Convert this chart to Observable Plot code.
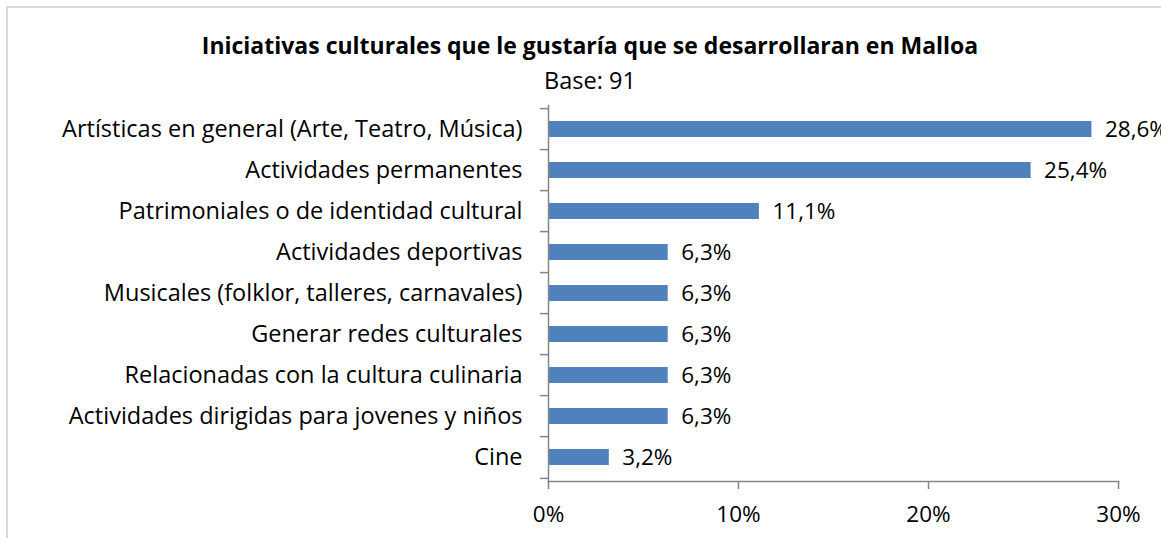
<!DOCTYPE html>
<html><head><meta charset="utf-8">
<script src="https://cdn.jsdelivr.net/npm/d3@7"></script>
<script src="https://cdn.jsdelivr.net/npm/@observablehq/plot@0.6"></script>
<style>
body{margin:0;background:#fff;font-family:"Open Sans",sans-serif;color:#000;width:1161px;height:538px;overflow:hidden;position:relative;}
#frame{position:absolute;left:6px;top:6px;width:1300px;height:700px;border-left:2px solid #d9d9d9;border-top:2px solid #d9d9d9;z-index:2;pointer-events:none;}
#title{position:absolute;left:0;width:1180px;top:33px;text-align:center;font-weight:bold;font-size:23px;line-height:24px;white-space:nowrap;}
#subtitle{position:absolute;left:0;width:1180px;top:68px;text-align:center;font-size:23.5px;line-height:24px;white-space:nowrap;}
#chart{position:absolute;left:0;top:95px;}
</style></head><body>
<div id="frame"></div>
<div id="title">Iniciativas culturales que le gustaría que se desarrollaran en Malloa</div>
<div id="subtitle">Base: 91</div>
<div id="chart"></div>
<script>
const categories = [
  "Artísticas en general (Arte, Teatro, Música)",
  "Actividades permanentes",
  "Patrimoniales o de identidad cultural",
  "Actividades deportivas",
  "Musicales (folklor, talleres, carnavales)",
  "Generar redes culturales",
  "Relacionadas con la cultura culinaria",
  "Actividades dirigidas para jovenes y niños",
  "Cine"
];
const values = [28.6, 25.4, 11.1, 6.3, 6.3, 6.3, 6.3, 6.3, 3.2];
const xTicks = [0, 10, 20, 30];

const data = categories.map((c, i) => ({category: c, value: values[i]}));
const fmt = v => v.toFixed(1).replace(".", ",") + "%";

const W = 1161, H = 443, mT = 10, mB = 57;
const step = (H - mT - mB) / categories.length;
const axisColor = "#868686";

const chart = Plot.plot({
  width: W, height: H,
  marginTop: mT, marginBottom: mB, marginLeft: 548, marginRight: 43,
  style: {fontFamily: "'Open Sans', sans-serif", fontSize: "23px", color: "#000", background: "transparent", overflow: "visible"},
  x: {domain: [0, 30]},
  y: {domain: categories, paddingInner: 0.6, paddingOuter: 0.3},
  marks: [
    Plot.barX(data, {x: "value", y: "category", fill: "#4f81bd"}),
    Plot.text(data, {x: "value", y: "category", text: d => fmt(d.value), textAnchor: "start", dx: 13, fontSize: 22.5, fill: "#000"}),
    Plot.axisX({ticks: xTicks, tickFormat: d => d + "%", tickSize: 8, tickPadding: 17, stroke: axisColor, strokeWidth: 1.5, fill: "#000", fontSize: 22.5, label: null}),
    Plot.axisY({tickSize: 0, tickPadding: 26, label: null, fontSize: 23.5, fill: "#000"}),
    Plot.axisY({tickSize: 8, tickFormat: () => "", label: null, dy: -step / 2, stroke: axisColor, strokeWidth: 1.5}),
    Plot.axisY({ticks: [categories[categories.length - 1]], tickSize: 8, tickFormat: () => "", label: null, dy: step / 2, stroke: axisColor, strokeWidth: 1.5}),
    Plot.frame({anchor: "left", stroke: axisColor, strokeWidth: 1.5}),
    Plot.frame({anchor: "bottom", stroke: axisColor, strokeWidth: 1.5})
  ]
});
document.getElementById("chart").appendChild(chart);
</script>
</body></html>
